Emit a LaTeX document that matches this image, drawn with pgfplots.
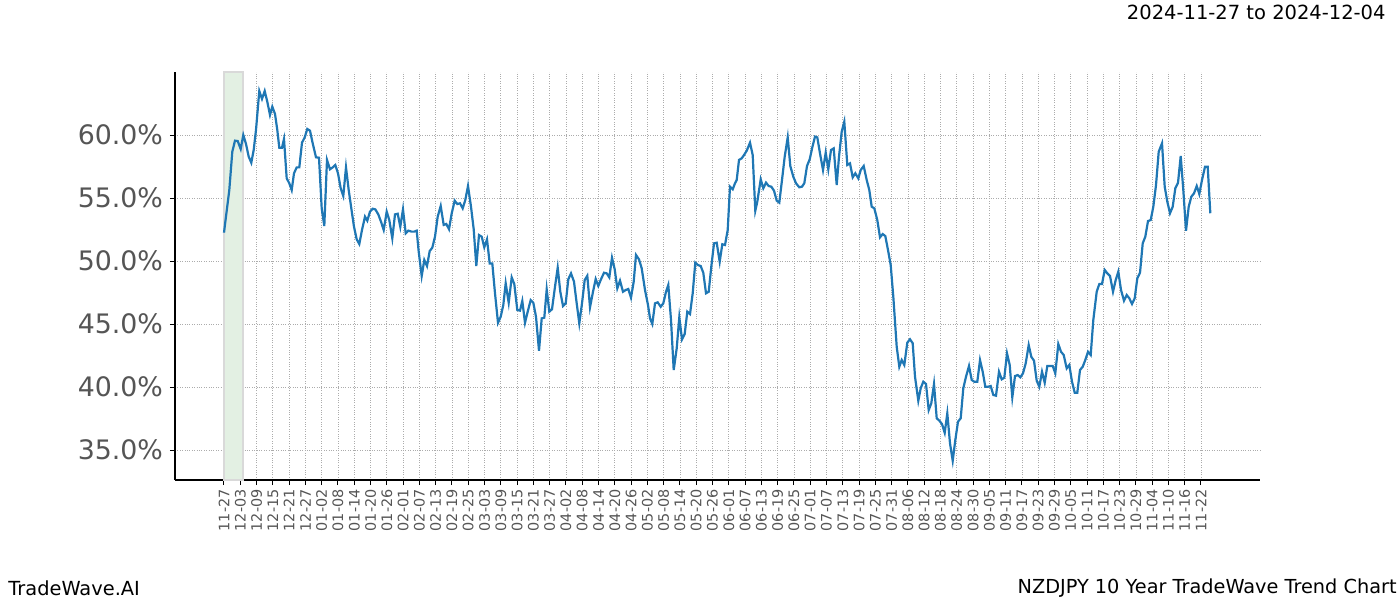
\documentclass[border=0pt]{standalone}
\usepackage{fontspec}
\setmainfont{DejaVu Sans}
\usepackage{pgfplots}
\usepackage{pgfplotstable}
\pgfplotsset{compat=1.18}
\definecolor{lineblue}{HTML}{1F77B4}
\definecolor{ticklab}{HTML}{555555}
\definecolor{bandgreen}{HTML}{E3F0E3}

\pgfplotstableread{
x y
0.0 52.25
5.3 55.63
8.3 58.67
11.0 59.55
13.7 59.52
16.7 58.89
19.3 60.00
22.0 59.29
24.7 58.28
27.3 57.80
29.7 58.81
32.0 60.40
35.3 63.49
38.0 62.86
40.7 63.49
43.3 62.64
46.0 61.59
48.3 62.25
51.0 61.67
53.3 60.40
55.3 58.99
58.0 58.99
60.0 59.68
62.7 56.56
65.3 56.17
67.7 55.63
70.0 56.96
72.7 57.43
75.3 57.43
78.0 59.39
80.7 59.81
83.3 60.48
86.0 60.34
88.7 59.34
92.0 58.23
95.0 58.20
97.7 54.18
100.3 52.78
103.0 58.02
106.0 57.28
108.7 57.43
111.3 57.62
114.0 56.96
116.7 55.77
119.3 55.16
122.0 57.43
124.7 55.63
127.3 54.18
130.0 52.72
132.7 51.72
135.3 51.35
138.0 52.46
141.0 53.52
143.3 53.20
146.0 53.92
148.7 54.15
151.3 54.10
154.3 53.70
157.0 53.12
159.7 52.46
162.7 53.92
165.3 53.25
168.3 51.80
171.0 53.70
173.7 53.75
176.3 52.72
179.0 54.10
181.7 52.20
184.3 52.41
187.7 52.33
190.3 52.33
192.7 52.41
194.7 50.74
197.7 48.81
200.3 50.08
203.0 49.60
205.7 50.79
208.3 51.06
211.0 51.93
213.7 53.52
216.7 54.37
219.7 52.86
222.3 52.94
225.0 52.52
227.7 53.78
230.7 54.79
233.3 54.52
236.0 54.58
238.7 54.18
241.3 54.84
244.0 55.95
247.0 54.31
249.7 52.52
252.3 49.60
255.0 52.06
257.7 51.93
260.3 51.09
263.0 51.72
265.7 49.81
268.3 49.81
271.0 47.44
274.0 45.10
276.7 45.58
279.3 46.51
281.7 48.23
284.7 46.69
287.7 48.70
290.3 48.17
293.3 46.11
296.0 46.06
298.3 46.83
301.0 45.10
303.7 45.98
306.7 46.90
309.3 46.69
312.0 45.58
315.0 42.88
317.7 45.45
320.3 45.50
322.7 47.75
325.3 45.98
328.0 46.17
331.0 47.96
333.7 49.47
336.3 47.56
339.0 46.43
341.7 46.64
344.3 48.55
347.0 49.02
350.0 48.36
352.7 46.64
355.3 45.05
358.0 46.64
360.7 48.49
363.3 48.83
366.0 46.32
369.0 47.56
371.7 48.57
374.3 48.02
377.0 48.55
380.0 49.07
382.7 49.02
385.3 48.70
388.0 50.26
390.7 49.34
393.3 47.83
396.0 48.44
399.0 47.56
401.7 47.70
404.3 47.78
407.0 47.09
409.7 48.36
412.0 50.48
415.0 50.13
417.7 49.42
421.0 47.70
424.0 46.51
426.0 45.45
428.3 45.00
431.0 46.64
433.7 46.72
436.7 46.37
439.3 46.64
442.0 47.56
444.3 48.10
447.0 45.32
449.7 41.35
452.7 43.07
455.3 45.53
458.0 43.78
460.7 44.21
463.3 45.98
466.0 45.79
468.7 47.44
471.3 49.87
474.0 49.68
476.7 49.60
479.3 49.07
482.0 47.44
484.7 47.56
487.3 49.55
490.0 51.40
492.7 51.45
495.7 49.94
498.3 51.33
501.0 51.27
503.7 52.46
506.0 55.90
508.7 55.69
511.0 56.17
512.7 56.43
515.0 58.02
517.7 58.15
520.0 58.41
522.7 58.75
526.0 59.39
528.7 58.41
531.3 53.99
533.3 54.71
536.7 56.48
539.3 55.77
542.0 56.22
544.7 55.95
547.3 55.90
550.0 55.58
552.7 54.79
555.3 54.63
558.0 56.43
560.7 58.28
563.7 59.81
566.3 57.54
569.3 56.69
572.0 56.17
575.3 55.85
578.0 55.90
580.3 56.17
583.0 57.54
585.7 58.07
588.3 59.02
591.0 59.87
593.3 59.81
596.0 58.54
599.0 57.22
601.7 58.60
604.3 57.28
607.0 58.81
609.7 58.94
612.7 56.03
615.0 58.28
617.7 60.26
620.3 61.06
623.3 57.62
626.0 57.75
628.7 56.64
631.3 56.96
634.3 56.56
636.7 57.22
639.7 57.54
642.7 56.43
645.3 55.63
647.7 54.31
650.3 54.18
653.3 53.25
656.0 51.88
658.7 52.14
661.3 51.98
664.0 50.87
666.7 49.68
669.3 47.17
672.7 43.20
675.3 41.61
677.7 42.14
680.3 41.75
683.3 43.52
686.0 43.79
688.7 43.47
691.0 40.82
694.3 38.91
696.7 39.90
699.3 40.42
702.0 40.24
704.7 38.17
707.3 38.71
710.0 40.24
712.7 37.52
715.3 37.33
718.0 37.06
720.7 36.37
723.3 37.91
726.0 35.53
728.7 34.15
731.3 35.79
734.0 37.25
736.7 37.52
739.3 39.90
742.0 40.82
745.0 41.67
747.7 40.56
750.3 40.42
753.3 40.42
756.0 42.14
758.7 41.21
761.3 40.02
764.0 40.02
766.7 40.08
769.3 39.37
772.0 39.31
775.0 41.21
777.7 40.61
780.3 40.74
783.0 42.67
785.7 41.75
788.3 39.18
791.0 40.87
793.7 40.95
796.3 40.77
799.0 41.09
801.7 41.88
804.7 43.33
807.3 42.40
810.0 42.09
812.7 40.50
815.3 40.02
818.0 41.21
820.7 40.34
823.3 41.67
826.0 41.67
828.7 41.67
831.3 41.09
834.3 43.41
837.0 42.80
839.7 42.54
842.7 41.48
845.3 41.75
848.0 40.42
850.7 39.55
853.3 39.55
856.0 41.35
858.7 41.61
861.3 42.14
864.0 42.80
866.7 42.54
869.3 45.32
872.7 47.56
875.3 48.17
878.0 48.17
880.7 49.29
883.3 49.02
886.0 48.81
889.0 47.56
891.7 48.49
894.3 49.15
897.0 47.70
900.0 46.85
902.7 47.30
905.3 47.04
908.0 46.59
910.7 47.04
913.3 48.63
916.0 49.07
918.7 51.40
921.3 51.93
924.0 53.17
926.7 53.25
929.3 54.31
932.0 56.03
934.7 58.67
938.0 59.34
940.7 55.90
943.3 54.71
946.0 53.79
948.7 54.31
951.3 55.77
954.0 56.21
956.7 58.33
959.3 55.63
962.0 52.40
964.7 54.31
967.3 55.10
970.0 55.37
972.7 55.95
975.3 55.32
978.0 56.43
981.0 57.48
983.7 57.48
986.3 53.79
}\trend

\begin{document}
\begin{tikzpicture}
\useasboundingbox (-87.5pt,-60pt) rectangle (612.5pt,240pt);
\begin{axis}[
  at={(0,0)}, anchor=south west,
  scale only axis, width=542.5pt, height=204pt,
  xmin=-49, xmax=1036, ymin=32.62, ymax=65.0,
  axis x line*=bottom, axis y line*=left,
  axis line style={black, line width=0.6pt},
  xtick={0,16.283,...,977.5},
  xticklabels={11-27,12-03,12-09,12-15,12-21,12-27,01-02,01-08,01-14,01-20,01-26,02-01,02-07,02-13,02-19,02-25,03-03,03-09,03-15,03-21,03-27,04-02,04-08,04-14,04-20,04-26,05-02,05-08,05-14,05-20,05-26,06-01,06-07,06-13,06-19,06-25,07-01,07-07,07-13,07-19,07-25,07-31,08-06,08-12,08-18,08-24,08-30,09-05,09-11,09-17,09-23,09-29,10-05,10-11,10-17,10-23,10-29,11-04,11-10,11-16,11-22},
  x tick label style={rotate=90, anchor=east, font=\fontsize{7.2}{8}\selectfont, text=ticklab, inner sep=2pt},
  ytick={35,40,45,50,55,60},
  yticklabel={\pgfmathprintnumber[fixed,fixed zerofill,precision=1]{\tick}\%},
  y tick label style={font=\fontsize{13.4}{15}\selectfont, text=ticklab},
  /pgf/number format/assume math mode=true,
  tick align=outside, major tick length=2.5pt, tick style={black, line width=0.5pt},
  grid=major, major grid style={gray!65, line width=0.35pt, dash pattern=on 0.4pt off 0.8pt},
]
\fill[bandgreen, draw=gray!30, line width=0.9pt] (axis cs:0,32.62) rectangle (axis cs:19,65);
\addplot[lineblue, line width=1.1pt, mark=none] table[x=x,y=y] {\trend};
\end{axis}
\node[anchor=east, font=\fontsize{9.75}{11}\selectfont, inner sep=0pt] at (605.5pt,234pt) {2024-11-27 to 2024-12-04};
\node[anchor=west, font=\fontsize{9.7}{11}\selectfont, inner sep=0pt] at (-83.5pt,-54pt) {TradeWave.AI};
\node[anchor=east, font=\fontsize{9.65}{11}\selectfont, inner sep=0pt] at (611pt,-54pt) {NZDJPY 10 Year TradeWave Trend Chart};
\end{tikzpicture}
\end{document}
